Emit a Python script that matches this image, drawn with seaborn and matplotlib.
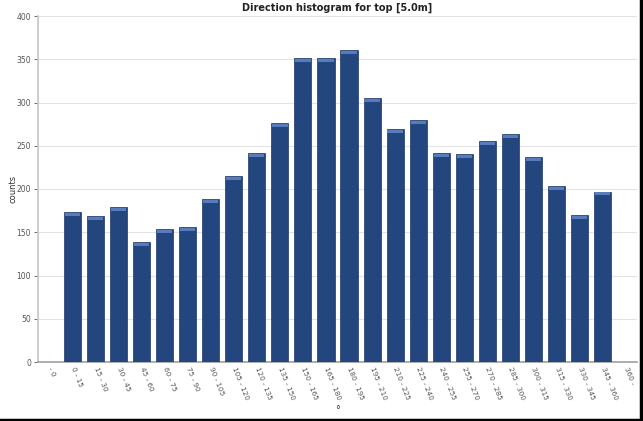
import matplotlib
matplotlib.use("Agg")
import matplotlib.pyplot as plt
import seaborn as sns
import pandas as pd
from matplotlib.patches import Rectangle
from matplotlib.lines import Line2D

categories = ["- 0", "0 - 15", "15 - 30", "30 - 45", "45 - 60", "60 - 75", "75 - 90",
              "90 - 105", "105 - 120", "120 - 135", "135 - 150", "150 - 165", "165 - 180",
              "180 - 195", "195 - 210", "210 - 225", "225 - 240", "240 - 255", "255 - 270",
              "270 - 285", "285 - 300", "300 - 315", "315 - 330", "330 - 345", "345 - 360", "360 -"]
counts = [0, 173, 169, 179, 139, 154, 156, 188, 215, 242, 276, 351, 351, 361,
          305, 269, 280, 242, 240, 255, 264, 237, 203, 170, 197, 0]
yticks = [0, 50, 100, 150, 200, 250, 300, 350, 400]

df = pd.DataFrame({"bin": categories, "counts": counts})

sns.set_theme(style="white")
plt.rcParams['font.family'] = ['DejaVu Sans']

fig = plt.figure(figsize=(6.43, 4.21), dpi=100)
ax = fig.add_axes([38/643, 1-362/421, (637-38)/643, (362-16)/421])

sns.barplot(data=df, x="bin", y="counts", color="#24467f", saturation=1,
            width=0.74, ax=ax, zorder=3)

# lighter cap on top of each bar
for p in ax.patches:
    h = p.get_height()
    if h > 0:
        cap = Rectangle((p.get_x()+0.04, h-4.5), p.get_width()-0.08, 3.5,
                        facecolor="#5d83c4", edgecolor="none", zorder=4, alpha=0.9)
        ax.add_patch(cap)
    p.set_edgecolor("#1a3566")
    p.set_linewidth(0.5)

ax.set_xlim(-0.5, len(categories)-0.5)
ax.set_ylim(0, 400)
ax.set_yticks(yticks)
ax.yaxis.grid(True, color="#e3e3e3", linewidth=0.8, zorder=0)
ax.tick_params(axis="y", labelsize=5.5, colors="#555555", length=3, width=0.6, pad=2, left=True)
ax.tick_params(axis="x", labelsize=5.2, colors="#555555", length=0, pad=4)
plt.setp(ax.get_xticklabels(), rotation=-68, ha="left", va="center", rotation_mode="anchor")
for s in ["top", "right"]:
    ax.spines[s].set_visible(False)
ax.spines["left"].set_color("#c8c8c8")
ax.spines["bottom"].set_color("#a0a0a0")
ax.spines["bottom"].set_linewidth(1.2)

ax.set_ylabel("counts", fontsize=6, color="#333333")
ax.yaxis.set_label_coords(-0.035, 0.5)
ax.set_xlabel("°", fontsize=7, color="#333333")
ax.xaxis.set_label_coords(0.5, -0.14)
ax.xaxis.label.set_va("center")
ax.set_title("Direction histogram for top [5.0m]", fontsize=7, fontweight="bold",
             color="#222222", pad=4)

# figure frame on the bottom and right
fig.add_artist(Line2D([0, 1], [0.003, 0.003], transform=fig.transFigure, color="black", linewidth=2.5))
fig.add_artist(Line2D([0.997, 0.997], [0, 1], transform=fig.transFigure, color="black", linewidth=2.5))

fig.savefig("out.png", dpi=100)
